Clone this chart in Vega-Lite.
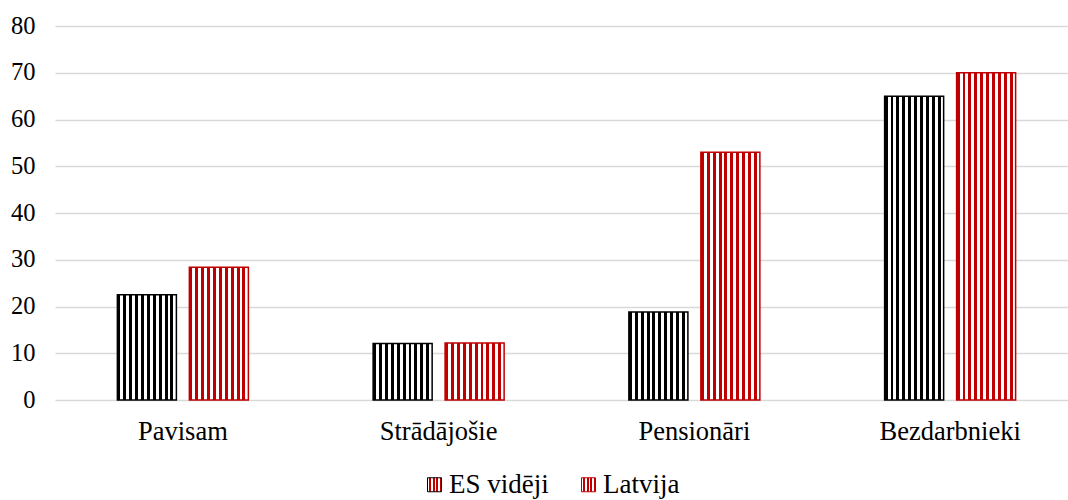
{
  "$schema": "https://vega.github.io/schema/vega-lite/v6.json",
  "autosize": "none",
  "width": 1023,
  "height": 374,
  "padding": {"left": 55, "top": 26, "right": 0, "bottom": 100},
  "background": "#ffffff",
  "config": {
    "view": {"stroke": null},
    "font": "Liberation Serif, Times New Roman, serif"
  },
  "data": {
    "values": [
      {"group": "Pavisam", "series": "ES vidēji", "value": 22.5},
      {"group": "Pavisam", "series": "Latvija", "value": 28.4},
      {"group": "Strādājošie", "series": "ES vidēji", "value": 12.1},
      {"group": "Strādājošie", "series": "Latvija", "value": 12.2},
      {"group": "Pensionāri", "series": "ES vidēji", "value": 18.8},
      {"group": "Pensionāri", "series": "Latvija", "value": 53.0},
      {"group": "Bezdarbnieki", "series": "ES vidēji", "value": 65.0},
      {"group": "Bezdarbnieki", "series": "Latvija", "value": 70.0}
    ]
  },
  "mark": {"type": "bar", "strokeWidth": 1.5},
  "encoding": {
    "x": {
      "field": "group",
      "type": "nominal",
      "sort": ["Pavisam", "Strādājošie", "Pensionāri", "Bezdarbnieki"],
      "scale": {"paddingInner": 0.4878, "paddingOuter": 0.2439},
      "axis": {"title": null, "labelAngle": 0, "domain": false, "ticks": false, "labelPadding": 18, "labelFont": "Liberation Serif, Times New Roman, serif", "labelFontSize": 26.5, "labelColor": "#000000"}
    },
    "xOffset": {
      "field": "series",
      "type": "nominal",
      "sort": ["ES vidēji", "Latvija"],
      "scale": {"paddingInner": 0.18, "paddingOuter": 0}
    },
    "y": {
      "field": "value",
      "type": "quantitative",
      "scale": {"domain": [0, 80], "nice": false},
      "axis": {"title": null, "values": [0, 10, 20, 30, 40, 50, 60, 70, 80], "domain": false, "ticks": false, "labelPadding": 20, "labelFont": "Liberation Serif, Times New Roman, serif", "labelFontSize": 24.5, "labelColor": "#000000", "gridColor": "#d9d9d9", "gridWidth": 1.4}
    },
    "stroke": {
      "field": "series",
      "type": "nominal",
      "scale": {"domain": ["ES vidēji", "Latvija"], "range": ["#000000", "#c00000"]},
      "legend": {
        "title": null,
        "orient": "none",
        "direction": "horizontal",
        "legendX": 366,
        "legendY": 445,
        "padding": 0,
        "symbolType": "square",
        "symbolSize": 196,
        "symbolStrokeWidth": 1,
        "labelOffset": 1,
        "columnPadding": 26,
        "labelFont": "Liberation Serif, Times New Roman, serif",
        "labelFontSize": 27,
        "labelColor": "#000000"
      }
    },
    "fill": {
      "condition": {
        "test": "datum.series === 'ES vidēji'",
        "value": {"gradient": "linear", "x1": 0, "y1": 0, "x2": 1, "y2": 0, "stops": [
          {"offset": 0, "color": "#000000"}, {"offset": 0.05, "color": "#000000"}, {"offset": 0.05, "color": "#ffffff"}, {"offset": 0.1, "color": "#ffffff"},
          {"offset": 0.1, "color": "#000000"}, {"offset": 0.15, "color": "#000000"}, {"offset": 0.15, "color": "#ffffff"}, {"offset": 0.2, "color": "#ffffff"},
          {"offset": 0.2, "color": "#000000"}, {"offset": 0.25, "color": "#000000"}, {"offset": 0.25, "color": "#ffffff"}, {"offset": 0.3, "color": "#ffffff"},
          {"offset": 0.3, "color": "#000000"}, {"offset": 0.35, "color": "#000000"}, {"offset": 0.35, "color": "#ffffff"}, {"offset": 0.4, "color": "#ffffff"},
          {"offset": 0.4, "color": "#000000"}, {"offset": 0.45, "color": "#000000"}, {"offset": 0.45, "color": "#ffffff"}, {"offset": 0.5, "color": "#ffffff"},
          {"offset": 0.5, "color": "#000000"}, {"offset": 0.55, "color": "#000000"}, {"offset": 0.55, "color": "#ffffff"}, {"offset": 0.6, "color": "#ffffff"},
          {"offset": 0.6, "color": "#000000"}, {"offset": 0.65, "color": "#000000"}, {"offset": 0.65, "color": "#ffffff"}, {"offset": 0.7, "color": "#ffffff"},
          {"offset": 0.7, "color": "#000000"}, {"offset": 0.75, "color": "#000000"}, {"offset": 0.75, "color": "#ffffff"}, {"offset": 0.8, "color": "#ffffff"},
          {"offset": 0.8, "color": "#000000"}, {"offset": 0.85, "color": "#000000"}, {"offset": 0.85, "color": "#ffffff"}, {"offset": 0.9, "color": "#ffffff"},
          {"offset": 0.9, "color": "#000000"}, {"offset": 0.95, "color": "#000000"}, {"offset": 0.95, "color": "#ffffff"}, {"offset": 1, "color": "#ffffff"}
        ]}
      },
      "value": {"gradient": "linear", "x1": 0, "y1": 0, "x2": 1, "y2": 0, "stops": [
        {"offset": 0, "color": "#c00000"}, {"offset": 0.05, "color": "#c00000"}, {"offset": 0.05, "color": "#ffffff"}, {"offset": 0.1, "color": "#ffffff"},
        {"offset": 0.1, "color": "#c00000"}, {"offset": 0.15, "color": "#c00000"}, {"offset": 0.15, "color": "#ffffff"}, {"offset": 0.2, "color": "#ffffff"},
        {"offset": 0.2, "color": "#c00000"}, {"offset": 0.25, "color": "#c00000"}, {"offset": 0.25, "color": "#ffffff"}, {"offset": 0.3, "color": "#ffffff"},
        {"offset": 0.3, "color": "#c00000"}, {"offset": 0.35, "color": "#c00000"}, {"offset": 0.35, "color": "#ffffff"}, {"offset": 0.4, "color": "#ffffff"},
        {"offset": 0.4, "color": "#c00000"}, {"offset": 0.45, "color": "#c00000"}, {"offset": 0.45, "color": "#ffffff"}, {"offset": 0.5, "color": "#ffffff"},
        {"offset": 0.5, "color": "#c00000"}, {"offset": 0.55, "color": "#c00000"}, {"offset": 0.55, "color": "#ffffff"}, {"offset": 0.6, "color": "#ffffff"},
        {"offset": 0.6, "color": "#c00000"}, {"offset": 0.65, "color": "#c00000"}, {"offset": 0.65, "color": "#ffffff"}, {"offset": 0.7, "color": "#ffffff"},
        {"offset": 0.7, "color": "#c00000"}, {"offset": 0.75, "color": "#c00000"}, {"offset": 0.75, "color": "#ffffff"}, {"offset": 0.8, "color": "#ffffff"},
        {"offset": 0.8, "color": "#c00000"}, {"offset": 0.85, "color": "#c00000"}, {"offset": 0.85, "color": "#ffffff"}, {"offset": 0.9, "color": "#ffffff"},
        {"offset": 0.9, "color": "#c00000"}, {"offset": 0.95, "color": "#c00000"}, {"offset": 0.95, "color": "#ffffff"}, {"offset": 1, "color": "#ffffff"}
      ]}
    }
  }
}
